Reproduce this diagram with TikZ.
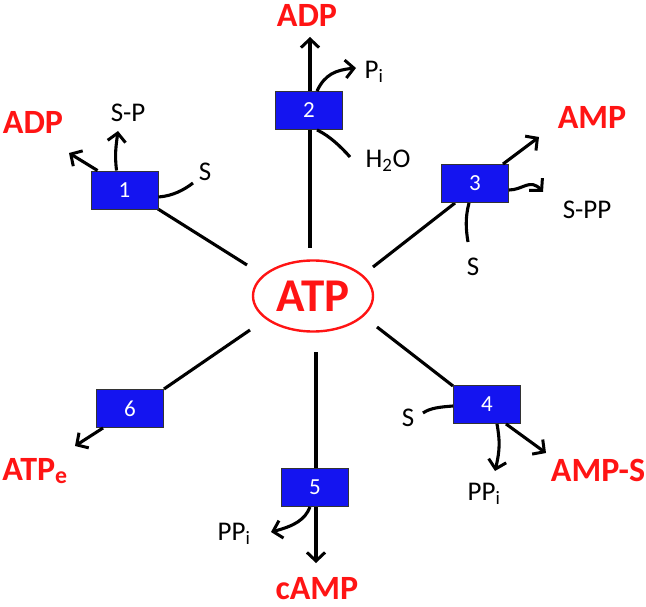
\documentclass[tikz,border=0pt]{standalone}
\usepackage{fontspec}
\setmainfont{Carlito}
\usetikzlibrary{arrows.meta,shapes.geometric}
\definecolor{prodred}{RGB}{255,20,20}
\definecolor{enzblue}{RGB}{20,20,240}
\begin{document}
\begin{tikzpicture}[x=1pt,y=-1pt,
  conn/.style={line width=3.1pt,black},
  arr/.style={conn,-{Straight Barb[length=8.5pt,width=18pt,line width=3pt]}},
  enz/.style={draw=black!80,line width=0.9pt,fill=enzblue,minimum width=67pt,minimum height=38pt,inner sep=0pt,text=white,font=\fontsize{23}{25}\selectfont},
  prod/.style={text=prodred,font=\fontsize{34}{36}\selectfont\bfseries,inner sep=0pt},
  lab/.style={text=black,font=\fontsize{27}{29}\selectfont,inner sep=0pt}]
\useasboundingbox (0,0) rectangle (646,607);
% ATP
\node[ellipse,draw=prodred,line width=2.4pt,minimum width=120pt,minimum height=71pt,inner sep=0pt,text=prodred,font=\fontsize{47}{50}\selectfont\bfseries] (atp) at (313,296) {ATP};
% line start points
\coordinate (a1) at (247,265);
\coordinate (a2) at (310,248);
\coordinate (a3) at (373,267);
\coordinate (a4) at (377,327);
\coordinate (a5) at (316,352);
\coordinate (a6) at (250,330);
% box positions
\coordinate (c1) at (124.5,190);
\coordinate (c2) at (309,110.5);
\coordinate (c3) at (475,183.5);
\coordinate (c4) at (487,404.5);
\coordinate (c5) at (315,487.5);
\coordinate (c6) at (130,408.5);
% product/label nodes
\node[prod] (adp1) at (33,122) {ADP};
\node[lab] (sp) at (128,113) {S-P};
\node[lab] (s1) at (205,172) {S};
\node[prod] (adp2) at (307,15) {ADP};
\node[lab] (pi) at (374,72) {P\textsubscript{i}};
\node[lab] (h2o) at (388,161) {H\textsubscript{2}O};
\node[prod] (amp) at (592,117) {AMP};
\node[lab] (spp) at (587,210) {S-PP};
\node[lab] (s3) at (473,267) {S};
\node[lab] (s4) at (408,418) {S};
\node[lab] (ppi4) at (484,494) {PP\textsubscript{i}};
\node[prod] (amps) at (598,470) {AMP-S};
\node[prod] (camp) at (317,589) {cAMP};
\node[lab] (ppi5) at (234,534) {PP\textsubscript{i}};
\node[prod] (atpe) at (35,471) {ATP\textsubscript{e}};
% arrow end coordinates
\coordinate (e1a) at (69,153);
\coordinate (e1b) at (118,131);
\coordinate (e1c) at (193,183);
\coordinate (e2a) at (310,37);
\coordinate (e2b) at (356,68);
\coordinate (e2c) at (350,157);
\coordinate (e3a) at (539,137);
\coordinate (e3b) at (543,192);
\coordinate (e3c) at (468,242);
\coordinate (e4a) at (546,453);
\coordinate (e4b) at (495,471);
\coordinate (e4c) at (423,413);
\coordinate (e5a) at (316,563);
\coordinate (e5b) at (271,532);
\coordinate (e6a) at (75,446);
% connectors to ATP
\draw[conn] (a1) -- (158,209);
\draw[arr] (a2) -- (e2a);
\draw[conn] (a3) -- (455,203);
\draw[conn] (a4) -- (453,386);
\draw[arr] (a5) -- (e5a);
\draw[conn] (a6) -- (164,389);
% boxes
\node[enz] (b1) at (c1) {1};
\node[enz] (b2) at (c2) {2};
\node[enz] (b3) at (c3) {3};
\node[enz] (b4) at (c4) {4};
\node[enz] (b5) at (c5) {5};
\node[enz] (b6) at (c6) {6};
% box 1
\draw[arr] ([xshift=7pt]b1.north west) -- (e1a);
\draw[arr] ([xshift=26pt]b1.north west) .. controls +(-2,-16) and (116,146) .. (e1b);
\draw[conn] ([yshift=-7pt]b1.east) .. controls +(14,-1) and (184,190) .. (e1c);
% box 2
\draw[arr] ([xshift=8pt]b2.north) .. controls +(8,-17) and (336,70) .. (e2b);
\draw[conn] ([xshift=8pt]b2.south) .. controls +(13,6) and (342,148) .. (e2c);
% box 3
\draw[arr] ([xshift=28pt]b3.north) -- (e3a);
\draw[arr] ([yshift=-6.5pt]b3.east) .. controls +(14,0) and (530,178) .. (e3b);
\draw[conn] ([xshift=-6pt]b3.south) .. controls +(-4,15) and (466,230) .. (e3c);
% box 4
\draw[conn] ([yshift=-1.5pt]b4.west) .. controls +(-13,1) and (430,408) .. (e4c);
\draw[arr] ([xshift=10pt]b4.south) .. controls +(3,17) and (500,450) .. (e4b);
\draw[arr] ([xshift=19pt]b4.south) -- (e4a);
% box 5
\draw[arr] ([xshift=-5pt]b5.south) .. controls +(-5,13) and (294,526) .. (e5b);
% box 6
\draw[arr] ([xshift=7pt]b6.south west) -- (e6a);
\end{tikzpicture}
\end{document}
